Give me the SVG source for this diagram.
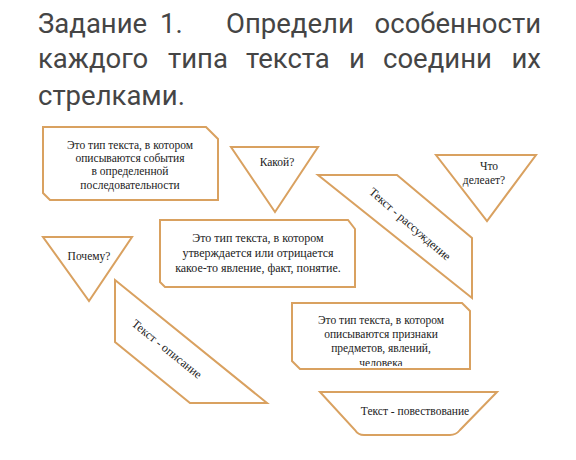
<svg xmlns="http://www.w3.org/2000/svg" width="576" height="460" viewBox="0 0 576 460">
<defs>
<style>
.t{font-family:Roboto,"Noto Sans",sans-serif;font-size:27.5px;fill:#454545}
.s{fill:#fff;stroke:#d9a160;stroke-width:2;stroke-linejoin:miter}
.l{font-family:"Liberation Serif","Times New Roman",serif;font-size:11.5px;fill:#222;text-anchor:middle}
</style>
<clipPath id="c3"><rect x="292" y="300" width="180" height="66"/></clipPath>
</defs>
<rect width="576" height="460" fill="#fff"/>
<g id="title">
<text class="t" x="38" y="33">Задание</text>
<text class="t" x="160" y="33">1.</text>
<text class="t" x="226" y="33">Определи</text>
<text class="t" x="541" y="33" text-anchor="end">особенности</text>
<text class="t" x="38" y="68">каждого</text>
<text class="t" x="168" y="68">типа</text>
<text class="t" x="246" y="68">текста</text>
<text class="t" x="349" y="68">и</text>
<text class="t" x="383" y="68">соедини</text>
<text class="t" x="541" y="68" text-anchor="end">их</text>
<text class="t" x="38" y="105">стрелками.</text>
</g>
<g id="connectors"></g>
<g id="box-povestvovanie-def">
<path class="s" d="M43 127 H206 L218 139 V200 H50 L43 193 Z"/>
<text class="l" x="130" y="149">Это тип текста, в котором</text>
<text class="l" x="130" y="162">описываются события</text>
<text class="l" x="130" y="175">в определенной</text>
<text class="l" x="130" y="189">последовательности</text>
</g>
<g id="tri-kakoy">
<path class="s" d="M231 147 H318 L275 212 Z"/>
<text class="l" x="277" y="166">Какой?</text>
</g>
<g id="para-rassuzhdenie">
<path class="s" d="M318 175 H397 L472 238 V298 Z"/>
<text class="l" style="font-size:12px" dominant-baseline="central" transform="translate(410 224) rotate(41)">Текст - рассуждение</text>
</g>
<g id="tri-chto-delaet">
<path class="s" d="M436 155 H536 L487 221 Z"/>
<text class="l" x="489" y="170">Что</text>
<text class="l" x="484" y="184">делеает?</text>
</g>
<g id="tri-pochemu">
<path class="s" d="M43 237 H132 L89 301 Z"/>
<text class="l" x="89" y="260">Почему?</text>
</g>
<g id="box-rassuzhdenie-def">
<path class="s" d="M160 220 H348 L355 229 V287 H165 L160 282 Z"/>
<text class="l" style="font-size:12px" x="258" y="242">Это тип текста, в котором</text>
<text class="l" style="font-size:12px" x="258" y="257">утверждается или отрицается</text>
<text class="l" style="font-size:12px" x="258" y="272">какое-то явление, факт, понятие.</text>
</g>
<g id="para-opisanie">
<path class="s" d="M115 280 L267 403 H190 L115 342 Z"/>
<text class="l" style="font-size:12px" dominant-baseline="central" transform="translate(167 349) rotate(39)">Текст - описание</text>
</g>
<g id="box-opisanie-def">
<path class="s" d="M292 303 H462 L470 311 V369 H300 L292 361 Z"/>
<g clip-path="url(#c3)">
<text class="l" x="381" y="324">Это тип текста, в котором</text>
<text class="l" x="381" y="338">описываются признаки</text>
<text class="l" x="381" y="352">предметов, явлений,</text>
<text class="l" x="381" y="367">человека</text>
</g>
</g>
<g id="trap-povestvovanie">
<path class="s" d="M320 392 H497 L460 430 Q456 435 450 435 H364 Q358 435 355 430 Z"/>
<text class="l" x="415" y="415">Текст - повествование</text>
</g>
</svg>
